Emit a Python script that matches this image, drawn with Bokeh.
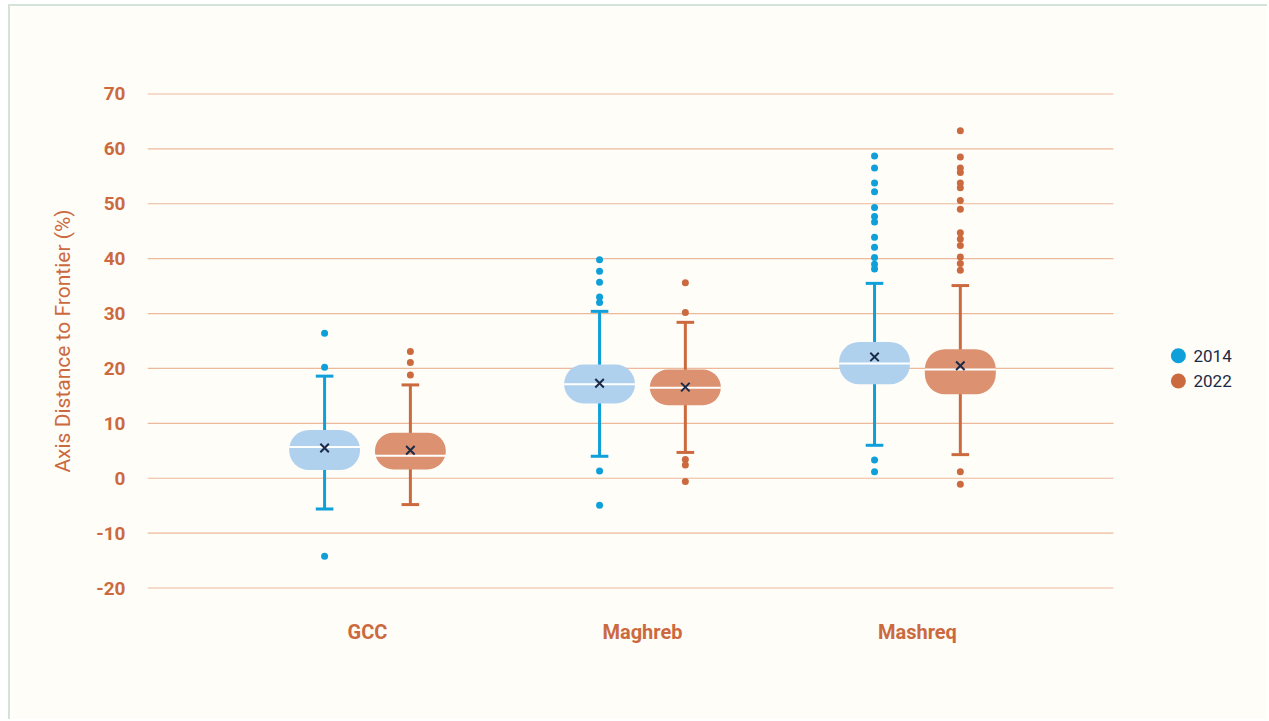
from bokeh.plotting import figure
from bokeh.models import Range1d, FixedTicker
from bokeh.core.properties import value
from bokeh.embed import file_html
from bokeh.resources import INLINE

regions = ["GCC", "Maghreb", "Mashreq"]
years = ["2014", "2022"]
y_ticks = [-20, -10, 0, 10, 20, 30, 40, 50, 60, 70]

# 2014 box statistics
q1_2014 = [1.5, 13.6, 17.1]
median_2014 = [5.7, 17.1, 20.9]
q3_2014 = [8.8, 20.7, 24.8]
mean_2014 = [5.5, 17.3, 22.1]
low_2014 = [-5.6, 4.0, 6.0]
high_2014 = [18.6, 30.4, 35.5]
outliers_2014 = [
    [26.4, 20.2, -14.2],
    [39.8, 37.7, 35.7, 33.0, 32.0, 1.3, -4.9],
    [58.7, 56.5, 53.8, 52.2, 49.3, 47.7, 46.7, 43.9, 42.1, 40.2, 39.0, 38.1, 3.3, 1.2],
]

# 2022 box statistics
q1_2022 = [1.6, 13.3, 15.3]
median_2022 = [4.1, 16.5, 19.8]
q3_2022 = [8.3, 19.8, 23.5]
mean_2022 = [5.1, 16.6, 20.5]
low_2022 = [-4.8, 4.7, 4.3]
high_2022 = [17.0, 28.4, 35.1]
outliers_2022 = [
    [23.1, 21.1, 18.8],
    [35.6, 30.2, 3.4, 2.4, -0.6],
    [63.3, 58.5, 56.5, 55.7, 53.8, 52.9, 50.6, 49.0, 44.7, 43.6, 42.4, 40.3, 39.1, 37.9, 1.2, -1.1],
]

ORANGE = "#CC6A3F"
BLUE = "#0FA0DA"
NAVY = "#1B2A47"
BG = "#FEFDF8"
FONT = "Roboto"

X0, X1 = -0.8, 2.7127  # extent of the plotting area (grid lines)

p = figure(
    width=1259, height=715,
    output_backend="svg", toolbar_location=None,
    x_range=Range1d(X0, 3.244), y_range=Range1d(-21, 71),
    min_border_left=137, min_border_right=10, min_border_top=82, min_border_bottom=128,
    background_fill_color=BG, border_fill_color=BG,
)
p.styles = {
    "margin-left": "8px", "margin-top": "4px",
    "border-top": "2px solid #D4E2D7", "border-left": "2px solid #D4E2D7",
}
p.outline_line_color = None
p.xgrid.visible = False
p.ygrid.visible = False

# horizontal grid lines limited to the plotting area
p.segment(x0=[X0] * len(y_ticks), y0=y_ticks, x1=[X1] * len(y_ticks), y1=y_ticks,
          line_color="#EDB99B", line_width=1.2)

p.yaxis.ticker = FixedTicker(ticks=y_ticks)
p.yaxis.major_label_overrides = {t: str(t) for t in y_ticks}
p.xaxis.ticker = FixedTicker(ticks=[0, 1, 2])
p.xaxis.major_label_overrides = {i: r for i, r in enumerate(regions)}
for ax in (p.xaxis[0], p.yaxis[0]):
    ax.axis_line_color = None
    ax.major_tick_line_color = None
    ax.minor_tick_line_color = None
    ax.major_label_text_color = ORANGE
    ax.major_label_text_font = FONT
    ax.major_label_text_font_style = "bold"
    ax.major_label_text_font_size = "19px"
p.xaxis.major_label_text_font_size = "20px"
p.xaxis.major_label_standoff = 20
p.yaxis.major_label_standoff = 16
p.yaxis.axis_label = "Axis Distance to Frontier (%)"
p.yaxis.axis_label_text_font = FONT
p.yaxis.axis_label_text_font_style = "normal"
p.yaxis.axis_label_text_font_size = "21px"
p.yaxis.axis_label_text_color = ORANGE
p.yaxis.axis_label_standoff = 18

series = [
    (years[0], -0.156, q1_2014, median_2014, q3_2014, mean_2014, low_2014, high_2014, outliers_2014, BLUE, "#AFD1EE"),
    (years[1], 0.156, q1_2022, median_2022, q3_2022, mean_2022, low_2022, high_2022, outliers_2022, ORANGE, "#DC9271"),
]

box_w = 0.258
cap_w = 0.064
legend_x = 2.949
legend_y = [22.3, 17.7]
for k, (year, off, q1, med, q3, mean, low, high, outs, lc, fc) in enumerate(series):
    xs = [i + off for i in range(len(regions))]
    # whisker line and caps
    p.segment(x0=xs, y0=low, x1=xs, y1=high, line_color=lc, line_width=3)
    p.segment(x0=[x - cap_w / 2 for x in xs], y0=low, x1=[x + cap_w / 2 for x in xs], y1=low,
              line_color=lc, line_width=3)
    p.segment(x0=[x - cap_w / 2 for x in xs], y0=high, x1=[x + cap_w / 2 for x in xs], y1=high,
              line_color=lc, line_width=3)
    # box
    p.quad(left=[x - box_w / 2 for x in xs], right=[x + box_w / 2 for x in xs], bottom=q1, top=q3,
           fill_color=fc, line_color=None, border_radius=20)
    # median
    p.segment(x0=[x - box_w / 2 for x in xs], y0=med, x1=[x + box_w / 2 for x in xs], y1=med,
              line_color="white", line_width=2)
    # mean
    p.scatter(x=xs, y=mean, marker="x", size=12, line_color=NAVY, line_width=2)
    # outliers
    ox, oy = [], []
    for i, vals in enumerate(outs):
        ox += [i + off] * len(vals)
        oy += vals
    p.scatter(x=ox, y=oy, marker="circle", size=7, fill_color=lc, line_color=None)
    # legend entry
    p.scatter(x=[legend_x], y=[legend_y[k]], marker="circle", size=15, fill_color=lc, line_color=None)
    p.text(x=[legend_x + 0.055], y=[legend_y[k]], text=[year], text_font=value(FONT),
           text_font_size="17px", text_color=NAVY, text_baseline="middle", text_align="left")

open("out.html", "w").write(file_html(p, INLINE))
